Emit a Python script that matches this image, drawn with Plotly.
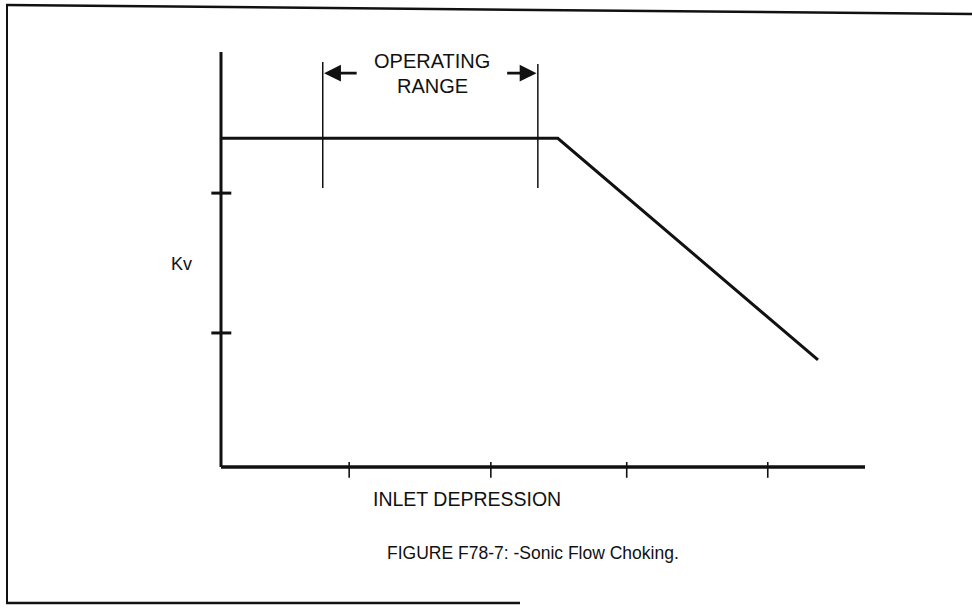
import plotly.graph_objects as go

# ---- data (axis units; x: inlet depression, y: Kv) ----
curve_x = [0.0, 5.23, 9.27]
curve_y = [7.92, 7.92, 2.58]

x_ticks = [1.99, 4.19, 6.30, 8.49]
y_ticks = [3.23, 6.60]

range_bounds = [1.58, 4.92]      # operating range limits
range_line_bottom = 6.72
range_line_tops = [9.76, 9.71]

x_axis_end = 10.0
y_axis_top = 10.0

BLACK = "#111111"

fig = go.Figure()

# axis lines
fig.add_trace(go.Scatter(x=[0, x_axis_end], y=[0, 0], mode="lines",
                         line=dict(color=BLACK, width=3.5), hoverinfo="skip"))
fig.add_trace(go.Scatter(x=[0, 0], y=[0, y_axis_top], mode="lines",
                         line=dict(color=BLACK, width=3), hoverinfo="skip"))

# crossing tick marks
tx, ty = [], []
for v in x_ticks:
    tx += [v, v, None]
    ty += [-0.26, 0.12, None]
fig.add_trace(go.Scatter(x=tx, y=ty, mode="lines",
                         line=dict(color=BLACK, width=1.6), hoverinfo="skip"))
yx, yy = [], []
for v in y_ticks:
    yx += [-0.15, 0.16, None]
    yy += [v, v, None]
fig.add_trace(go.Scatter(x=yx, y=yy, mode="lines",
                         line=dict(color=BLACK, width=3), hoverinfo="skip"))

# Kv curve
fig.add_trace(go.Scatter(x=curve_x, y=curve_y, mode="lines",
                         line=dict(color=BLACK, width=3), hoverinfo="skip"))

# operating range boundaries
for xb, top in zip(range_bounds, range_line_tops):
    fig.add_trace(go.Scatter(x=[xb, xb], y=[range_line_bottom, top], mode="lines",
                             line=dict(color=BLACK, width=1.5), hoverinfo="skip"))

# arrows
arrow_y = 9.49
fig.add_annotation(x=range_bounds[0] + 0.02, y=arrow_y, ax=range_bounds[0] + 0.55, ay=arrow_y,
                   xref="x", yref="y", axref="x", ayref="y", text="", showarrow=True,
                   arrowhead=2, arrowsize=1.3, arrowwidth=2.6, arrowcolor=BLACK)
fig.add_annotation(x=range_bounds[1] - 0.02, y=arrow_y, ax=range_bounds[1] - 0.5, ay=arrow_y,
                   xref="x", yref="y", axref="x", ayref="y", text="", showarrow=True,
                   arrowhead=2, arrowsize=1.3, arrowwidth=2.6, arrowcolor=BLACK)

FONT = "Liberation Sans"
# texts in pixel positions (paper coords)
W, H = 972, 609
def px(x, y):
    return x / W, 1 - y / H

for txt, (x, y), size in [
    ("OPERATING", (432, 61), 20),
    ("RANGE", (432, 86), 20),
    ("Kv", (181, 264), 18),
    ("INLET DEPRESSION", (467, 499), 19.5),
    ("FIGURE F78-7: -Sonic Flow Choking.", (533, 553), 17.5),
]:
    xx, yy2 = px(x, y)
    fig.add_annotation(x=xx, y=yy2, xref="paper", yref="paper", text=txt, showarrow=False,
                       xanchor="center", yanchor="middle",
                       font=dict(family=FONT, size=size, color=BLACK))

# outer frame (partial, as in scan)
frame = [((6, 5), (972, 14), 2.5), ((7, 4), (7, 604), 2), ((6, 603), (520, 603), 2.5)]
for (x0, y0), (x1, y1), w in frame:
    a0, b0 = px(x0, y0)
    a1, b1 = px(x1, y1)
    fig.add_shape(type="line", xref="paper", yref="paper", x0=a0, y0=b0, x1=a1, y1=b1,
                  line=dict(color=BLACK, width=w))

fig.update_layout(
    width=W, height=H, autosize=False,
    margin=dict(l=0, r=0, t=0, b=0),
    paper_bgcolor="white", plot_bgcolor="white",
    showlegend=False,
    xaxis=dict(range=[-221 / 64.4, 751 / 64.4], visible=False, fixedrange=True),
    yaxis=dict(range=[-142 / 41.5, 467 / 41.5], visible=False, fixedrange=True),
)

fig.write_html("out.html", config={"displayModeBar": False},
               post_script="document.body.style.margin='0';document.body.style.overflow='hidden';")
